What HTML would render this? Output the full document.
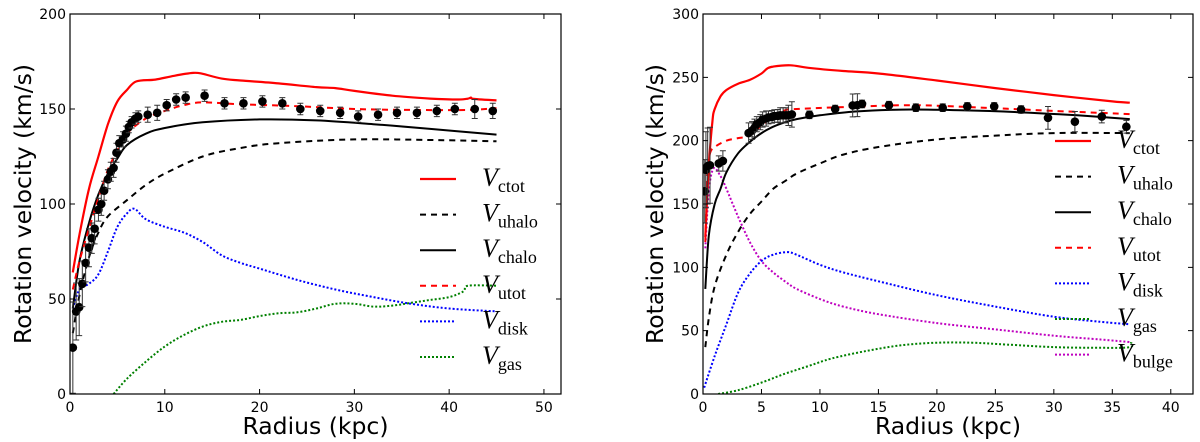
<!DOCTYPE html>
<html><head><meta charset="utf-8"><style>
html,body{margin:0;padding:0;background:#fff;}
svg{display:block;}
.tk{font-family:"DejaVu Sans","Liberation Sans",sans-serif;font-size:14px;fill:#000;}
.al{font-family:"DejaVu Sans","Liberation Sans",sans-serif;font-size:23.5px;fill:#000;}
.lg{font-family:"Liberation Serif","DejaVu Serif",serif;font-size:26px;font-style:italic;fill:#000;}
.ls{font-family:"Liberation Serif","DejaVu Serif",serif;font-size:18px;font-style:normal;}
</style></head><body>
<svg id="root" width="1200" height="442" viewBox="0 0 1200 442" xmlns="http://www.w3.org/2000/svg"></svg>
<script>
// ===== Left panel data =====
const L_ctot_r=[0.3,1,2,3,4,5,6,7,9,11,13,14,16,18,22,26,28,30,34,38,41,42,42.3,42.6,45];
const L_ctot_v=[64,84,108,125,142,154,160,164.5,165.5,167.5,169,168.5,166,165,163.5,161.5,161,159.5,157,155.5,155,155.5,156,155.3,154.5];
const L_uhalo_r=[0.3,1,2,3,4,6,8,10,14,18,22,30,40,45];
const L_uhalo_v=[32,52,72,85,93.5,102,110,116,125,129.5,132,134,133.5,133];
const L_chalo_r=[0.3,1,2,3,4,5,6,8,10,14,20,26,32,38,45];
const L_chalo_v=[45,70,90,105,116,124,131,137,140,143,144.5,144,142,139.5,136.5];
const L_utot_r=[0.3,1,2,3,4,5,6,8,10,12,14,18,24,30,36,42,45];
const L_utot_v=[55,70,87,103,118,128,137,145,149,152,153.5,152.5,151.5,150,149.5,149.5,150.5];
const L_disk_r=[0.3,1,2,3,4,5,6,6.8,8,10,12,14,16,18,20,24,28,32,36,40,45];
const L_disk_v=[45,55,58,63,75,88,95,97.5,92,88,85,80,73,69,66,60,55,51,47.5,45,43.5];
const L_gas_r=[4.6,6,8,10,12,14,16,18,20,22,24,26,28,30,32,34,36,38,40,41.5,42,45];
const L_gas_v=[0,8,17,25,31,35.5,38,39,41,42.5,43,45,47.5,47.5,46,46.5,48,49.5,51,54,57,57];
const L_obs_r=[0.3,0.65,0.97,1.3,1.65,2.0,2.3,2.6,3.0,3.3,3.6,4.0,4.3,4.6,4.9,5.2,5.6,5.9,6.2,6.5,6.9,7.2,8.2,9.2,10.2,11.2,12.2,14.2,16.3,18.3,20.3,22.4,24.3,26.4,28.5,30.4,32.5,34.5,36.6,38.7,40.6,42.7,44.6];
const L_obs_v=[24.4,43.4,45.7,58,69,77,82,87,97,100,107,113,117,119,127,132,134,137,140.5,143,145,146,147,148,152,155,156,157,153,153,154,153,150,149,148,146,147,148,148,149,150,150,149];
const L_obs_e=[24,15,15,12,10,10,8,8,6,6,5,5,5,5,5,4,4,4,3,3,3,3,4,4,3,3,3,3,3,3,3,3,3,3,3,3,3,3,3,3,3,5,4];
const L_xticks=[0,10,20,30,40,50];
const L_yticks=[0,50,100,150,200];
// ===== Right panel data =====
const R_ctot_r=[0.2,0.5,0.8,1,1.5,2,3,4,5,5.5,6,7.5,9,12,15,20,25,30,35,36.5];
const R_ctot_v=[124,180,215,225,235,240,245,248,253,257,258.5,259.5,257.5,255,253,247.5,241.5,236,231,230];
const R_uhalo_r=[0.2,0.5,1,2,3,4,5,6,7,8,10,12,15,20,25,30,36.5];
const R_uhalo_v=[37,60,85,110,128,142,152,162,168,174,182,189,195,201,204,206,206];
const R_chalo_r=[0.2,0.5,1,1.5,2,3,4,5,6,7,8,10,13,17,22,27,32,36.5];
const R_chalo_v=[83,125,150,162,175,190,199,206,211,214.5,217,220,223,224.5,224,222.5,220,217];
const R_utot_r=[0.2,0.4,0.6,1,2,3,4,5,6,7,8,12,18,24,30,36.5];
const R_utot_v=[120,175,190,195,200,202,204,212,219,224,225,226.5,228,226,223.5,221];
const R_disk_r=[0.1,1,2,3,4,5,6,7.2,8,10,12,15,20,25,30,34,36.5];
const R_disk_v=[5,30,55,80,95,105,110,112,110,102,96,89,78,69,61,57,55];
const R_gas_r=[1.3,3,5,7,9,11,14,17,20,23,26,30,34,36.5,36.6];
const R_gas_v=[0,3,9,16,22,28,34,38.5,40.5,40.5,39,37,36.5,37,41];
const R_bulge_r=[0.2,0.5,0.9,1.5,2,3,4,5,6,7,8,10,12,15,20,25,30,34,36.5];
const R_bulge_v=[115,160,178,172,162,140,120,105,96,89,83,75,69,63,56,51,46,43,41];
const R_obs_r=[0.15,0.25,0.4,0.6,1.35,1.7,3.9,4.2,4.4,4.6,4.9,5.1,5.4,5.6,5.9,6.1,6.4,6.6,6.85,7.1,7.3,7.6,9.1,11.3,12.8,13.2,13.6,15.9,18.2,20.5,22.6,24.9,27.2,29.5,31.8,34.1,36.2];
const R_obs_v=[160,177,180,180.6,182,184,206,208,210,213,214.6,216.7,217.5,218.3,218.8,219.4,219.6,220,220,220,220,220.7,220.4,225,227.8,228,229,228,226,226,227,227,224.6,218,215,219,211];
const R_obs_e=[25,30,30,30,6,8,8,7,7,6,6,6,6,5,5,5,5,6,6,6,8,10,3,3,9,9,3,3,3,3,3,3,3,9,8,5,5];
const R_xticks=[0,5,10,15,20,25,30,35,40];
const R_yticks=[0,50,100,150,200,250,300];

const NS="http://www.w3.org/2000/svg";
const root=document.getElementById('root');
function mk(tag,attrs,parent){const e=document.createElementNS(NS,tag);for(const k in attrs)e.setAttribute(k,attrs[k]);(parent||root).appendChild(e);return e;}
function smooth(pts){
  let d='M'+pts[0][0].toFixed(1)+','+pts[0][1].toFixed(1);
  for(let i=0;i<pts.length-1;i++){
    const p0=pts[Math.max(0,i-1)],p1=pts[i],p2=pts[i+1],p3=pts[Math.min(pts.length-1,i+2)];
    const c1=[p1[0]+(p2[0]-p0[0])/6,p1[1]+(p2[1]-p0[1])/6],c2=[p2[0]-(p3[0]-p1[0])/6,p2[1]-(p3[1]-p1[1])/6];
    d+='C'+c1[0].toFixed(1)+','+c1[1].toFixed(1)+' '+c2[0].toFixed(1)+','+c2[1].toFixed(1)+' '+p2[0].toFixed(1)+','+p2[1].toFixed(1);
  }
  return d;
}
function panel(cfg){
  const g=mk('g',{});
  
  
  const X=v=>cfg.x0+(v-0)/(cfg.xmax)*(cfg.x1-cfg.x0);
  const Y=v=>cfg.y1-(v/cfg.ymax)*(cfg.y1-cfg.y0);
  const clip='clip-'+cfg.name;
  const cp=mk('clipPath',{id:clip},g);mk('rect',{x:cfg.x0,y:cfg.y0,width:cfg.x1-cfg.x0,height:cfg.y1-cfg.y0},cp);
  const plot=mk('g',{'clip-path':'url(#'+clip+')'},g);
  cfg.series.forEach(s=>{
    const d=smooth(s.r.map((r,i)=>[X(r),Y(s.v[i])]));
    const p=mk('path',{d:d,fill:'none',stroke:s.c,'stroke-width':s.w||2,'stroke-dasharray':s.dash||'none'},plot);
    
    
  });
  cfg.obs.r.forEach((r,i)=>{
    const x=X(r),v=cfg.obs.v[i],e=cfg.obs.e[i];
    const eb=mk('path',{d:`M${x},${Y(v-e)}L${x},${Y(v+e)}M${x-3},${Y(v-e)}L${x+3},${Y(v-e)}M${x-3},${Y(v+e)}L${x+3},${Y(v+e)}`,stroke:'#333','stroke-width':1,fill:'none'},plot);
    
    
    const c=mk('circle',{cx:x,cy:Y(v),r:4.3,fill:'#000'},plot);
    
    
  });
  const fr=mk('rect',{x:cfg.x0,y:cfg.y0,width:cfg.x1-cfg.x0,height:cfg.y1-cfg.y0,fill:'none',stroke:'#000','stroke-width':1.2},g);
  
  
  cfg.xt.forEach(t=>{
    const x=X(t);
    mk('path',{d:`M${x},${cfg.y1}L${x},${cfg.y1-5}M${x},${cfg.y0}L${x},${cfg.y0+5}`,stroke:'#000'},g);
    const tx=mk('text',{x:x,y:cfg.y1+18,'text-anchor':'middle',class:'tk'},g);tx.textContent=t;
    
    
  });
  cfg.yt.forEach(t=>{
    const y=Y(t);
    mk('path',{d:`M${cfg.x0},${y}L${cfg.x0+5},${y}M${cfg.x1},${y}L${cfg.x1-5},${y}`,stroke:'#000'},g);
    const tx=mk('text',{x:cfg.x0-4,y:y+5,'text-anchor':'end',class:'tk'},g);tx.textContent=t;
    
    
  });
  const xl=mk('text',{x:(cfg.x0+cfg.x1)/2,y:434,'text-anchor':'middle',class:'al'},g);xl.textContent='Radius (kpc)';
  
  
  const cy=(cfg.y0+cfg.y1)/2;
  const yl=mk('text',{x:cfg.ylx,y:cy,'text-anchor':'middle',class:'al',transform:`rotate(-90 ${cfg.ylx} ${cy})`},g);yl.textContent='Rotation velocity (km/s)';
  
  
  const lg=mk('g',{},g);
  
  
  cfg.legend.forEach((s,i)=>{
    const y=cfg.ly+i*35.6;
    const e=mk('g',{},lg);
    
    
    mk('line',{x1:cfg.lx,x2:cfg.lx+36,y1:y,y2:y,stroke:s.c,'stroke-width':s.w||2,'stroke-dasharray':s.dash||'none'},e);
    const t=mk('text',{x:cfg.lx+62,y:y+7,class:'lg'},e);
    t.innerHTML='V<tspan class="ls" dy="6">'+s.sub+'</tspan>';
  });
}
const red='#ff0000',blk='#000',blue='#0000ff',green='#008000',mag='#bf00bf';
const sL={ctot:{id:'v-ctot',sub:'ctot',c:red,w:2.2},uhalo:{id:'v-uhalo',sub:'uhalo',c:blk,dash:'6,5'},chalo:{id:'v-chalo',sub:'chalo',c:blk},utot:{id:'v-utot',sub:'utot',c:red,dash:'6,5'},disk:{id:'v-disk',sub:'disk',c:blue,dash:'2,2'},gas:{id:'v-gas',sub:'gas',c:green,dash:'2,2'},bulge:{id:'v-bulge',sub:'bulge',c:mag,dash:'2,2'}};
function S(k,r,v){return Object.assign({},sL[k],{r:r,v:v});}
panel({name:'left-panel',x0:70,x1:561,y0:14,y1:394,xmax:51.8,ymax:200,ylx:31,xt:L_xticks,yt:L_yticks,lx:420,ly:179,
  series:[S('gas',L_gas_r,L_gas_v),S('disk',L_disk_r,L_disk_v),S('uhalo',L_uhalo_r,L_uhalo_v),S('chalo',L_chalo_r,L_chalo_v),S('utot',L_utot_r,L_utot_v),S('ctot',L_ctot_r,L_ctot_v)],
  obs:{r:L_obs_r,v:L_obs_v,e:L_obs_e},
  legend:[sL.ctot,sL.uhalo,sL.chalo,sL.utot,sL.disk,sL.gas]});
panel({name:'right-panel',x0:703,x1:1193,y0:14,y1:394,xmax:41.9,ymax:300,ylx:663,xt:R_xticks,yt:R_yticks,lx:1055,ly:141,
  series:[S('gas',R_gas_r,R_gas_v),S('bulge',R_bulge_r,R_bulge_v),S('disk',R_disk_r,R_disk_v),S('uhalo',R_uhalo_r,R_uhalo_v),S('chalo',R_chalo_r,R_chalo_v),S('utot',R_utot_r,R_utot_v),S('ctot',R_ctot_r,R_ctot_v)],
  obs:{r:R_obs_r,v:R_obs_v,e:R_obs_e},
  legend:[sL.ctot,sL.uhalo,sL.chalo,sL.utot,sL.disk,sL.gas,sL.bulge]});
</script>
</body></html>
